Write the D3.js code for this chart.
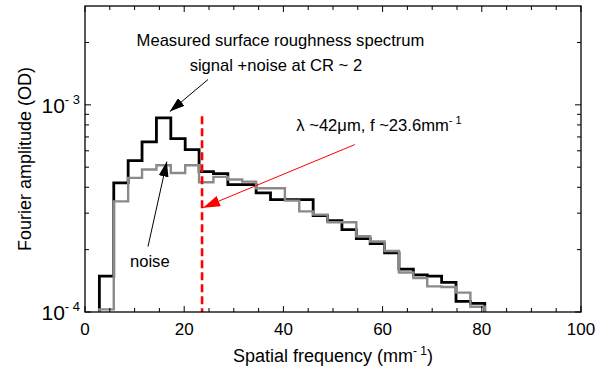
<!DOCTYPE html>
<html>
<head>
<meta charset="utf-8">
<script src="https://cdn.jsdelivr.net/npm/d3@7"></script>
<style>
body{margin:0;background:#fff;}
svg{display:block;font-family:"Liberation Sans",Arial,sans-serif;}
</style>
</head>
<body>
<div id="chart"></div>
<script>
// histogram bin edges, spatial frequency (mm^-1)
var binEdges = [2.9,5.8,8.7,11.5,14.4,17.3,20.2,23.0,25.9,28.8,31.7,34.5,37.4,40.3,
                43.2,46.0,48.9,51.8,54.7,57.5,60.4,63.3,66.2,69.0,71.9,74.8,77.7,80.6];
// signal + noise at CR~2 (black)
var signalNoise = [1.49e-4,4.20e-4,5.38e-4,6.63e-4,8.65e-4,6.87e-4,6.08e-4,4.76e-4,4.66e-4,
                   4.12e-4,4.12e-4,3.76e-4,3.49e-4,3.49e-4,3.49e-4,2.92e-4,2.76e-4,2.50e-4,
                   2.26e-4,2.14e-4,1.93e-4,1.61e-4,1.51e-4,1.49e-4,1.39e-4,1.125e-4,1.10e-4];
// noise (grey)
var noiseOnly = [1.03e-4,3.42e-4,4.44e-4,4.87e-4,5.11e-4,4.69e-4,5.11e-4,4.23e-4,4.49e-4,
                 4.36e-4,4.26e-4,3.96e-4,3.96e-4,3.45e-4,3.06e-4,2.95e-4,2.71e-4,2.71e-4,
                 2.32e-4,2.19e-4,1.97e-4,1.55e-4,1.46e-4,1.33e-4,1.32e-4,1.24e-4,1.06e-4];
var xMajor = [0,20,40,60,80,100];
var xMinor = [5,10,15,25,30,35,45,50,55,65,70,75,85,90,95];
var yMajor = [1e-4,1e-3];
var yLabelExp = ["- 4","- 3"];
var yMinor = [2e-4,3e-4,4e-4,5e-4,6e-4,7e-4,8e-4,9e-4,2e-3];
var cutoffFreq = 23.6;

var W = 603, H = 371;
var m = {l:85, r:22, t:6, b:59};
var pw = W-m.l-m.r, ph = H-m.t-m.b;

var svg = d3.select("#chart").append("svg")
    .attr("width",W).attr("height",H);

var x = d3.scaleLinear().domain([0,100]).range([m.l,m.l+pw]);
var y = d3.scaleLog().domain([1e-4,3e-3]).range([m.t+ph,m.t]);

svg.append("defs").append("clipPath").attr("id","plotclip")
  .append("rect").attr("x",m.l).attr("y",m.t).attr("width",pw).attr("height",ph);

function addHead(id,col,len,wid){
  svg.select("defs").append("marker")
    .attr("id",id).attr("markerUnits","userSpaceOnUse")
    .attr("viewBox","0 0 "+len+" "+wid)
    .attr("refX",len).attr("refY",wid/2)
    .attr("markerWidth",len).attr("markerHeight",wid)
    .attr("orient","auto")
    .append("path").attr("d","M0,0L"+len+","+(wid/2)+"L0,"+wid+"Z").attr("fill",col);
}
addHead("headK","#000",15,10);
addHead("headR","#f00",17,11);

// step outline of a histogram, starting and ending on the baseline
function stepPts(vals){
  var pts = [[binEdges[0],1e-4]];
  for(var i=0;i<vals.length;i++) pts.push([binEdges[i],vals[i]]);
  pts.push([binEdges[vals.length],vals[vals.length-1]]);
  pts.push([binEdges[vals.length],1e-4]);
  return pts;
}
var step = d3.line().x(function(d){return x(d[0]);}).y(function(d){return y(d[1]);})
  .curve(d3.curveStepAfter);

var g = svg.append("g").attr("clip-path","url(#plotclip)");
g.append("path").attr("d",step(stepPts(signalNoise)))
  .attr("fill","none").attr("stroke","#000").attr("stroke-width",2.8);
g.append("path").attr("d",step(stepPts(noiseOnly)))
  .attr("fill","none").attr("stroke","#8a8a8a").attr("stroke-width",2.4);

// cutoff line
svg.append("line")
  .attr("x1",x(cutoffFreq)).attr("x2",x(cutoffFreq))
  .attr("y1",y(8.8e-4)).attr("y2",y(1e-4))
  .attr("stroke","#f00").attr("stroke-width",2.6).attr("stroke-dasharray","8,4");

// frame and ticks
svg.append("rect").attr("x",m.l).attr("y",m.t).attr("width",pw).attr("height",ph)
  .attr("fill","none").attr("stroke","#000").attr("stroke-width",1.3);

function ticksX(vals,len){
  vals.forEach(function(v){
    svg.append("line").attr("x1",x(v)).attr("x2",x(v))
      .attr("y1",m.t+ph).attr("y2",m.t+ph-len).attr("stroke","#000").attr("stroke-width",1);
    svg.append("line").attr("x1",x(v)).attr("x2",x(v))
      .attr("y1",m.t).attr("y2",m.t+len).attr("stroke","#000").attr("stroke-width",1);
  });
}
function ticksY(vals,len){
  vals.forEach(function(v){
    svg.append("line").attr("x1",m.l).attr("x2",m.l+len)
      .attr("y1",y(v)).attr("y2",y(v)).attr("stroke","#000").attr("stroke-width",1);
    svg.append("line").attr("x1",m.l+pw).attr("x2",m.l+pw-len)
      .attr("y1",y(v)).attr("y2",y(v)).attr("stroke","#000").attr("stroke-width",1);
  });
}
ticksX(xMajor,6); ticksX(xMinor,4);
ticksY(yMajor,6); ticksY(yMinor,4);

svg.selectAll(".xlab").data(xMajor).enter().append("text")
  .attr("class","xlab")
  .attr("x",function(d){return x(d);}).attr("y",m.t+ph+23)
  .attr("text-anchor","middle").attr("font-size",17)
  .text(String);

var ylab = svg.selectAll(".ylab").data(yMajor).enter().append("text")
  .attr("class","ylab")
  .attr("x",m.l-5).attr("y",function(d){return y(d)+8;})
  .attr("text-anchor","end").attr("font-size",21);
ylab.append("tspan").text("10");
ylab.append("tspan").attr("dy",-9).attr("font-size",13)
  .text(function(d,i){return yLabelExp[i];});

// axis titles
var xt = svg.append("text").attr("x",m.l+pw/2).attr("y",H-9)
  .attr("text-anchor","middle").attr("font-size",18);
xt.append("tspan").text("Spatial frequency (mm");
xt.append("tspan").attr("dy",-7).attr("font-size",12).text("- 1");
xt.append("tspan").attr("dy",7).text(")");

svg.append("text")
  .attr("transform","translate(31,"+(m.t+ph/2)+") rotate(-90)")
  .attr("text-anchor","middle").attr("font-size",18)
  .text("Fourier amplitude (OD)");

// annotations
svg.append("text").attr("x",x(10.4)).attr("y",y(1.93e-3)).attr("font-size",16.6)
  .text("Measured surface roughness spectrum");
svg.append("text").attr("x",x(21.1)).attr("y",y(1.456e-3)).attr("font-size",16.6)
  .text("signal +noise at CR ~ 2");
var lam = svg.append("text").attr("x",x(42.6)).attr("y",y(7.5e-4)).attr("font-size",16.6);
lam.append("tspan").text("\u03bb ~42\u03bcm, f ~23.6mm");
lam.append("tspan").attr("dy",-7).attr("font-size",11).text("- 1");
svg.append("text").attr("x",x(9.06)).attr("y",y(1.655e-4)).attr("font-size",16.6)
  .text("noise");

svg.append("line")
  .attr("x1",x(24.8)).attr("y1",y(1.325e-3)).attr("x2",x(17.1)).attr("y2",y(9.28e-4))
  .attr("stroke","#000").attr("stroke-width",1).attr("marker-end","url(#headK)");
svg.append("line")
  .attr("x1",x(12.7)).attr("y1",y(2.07e-4)).attr("x2",x(16.5)).attr("y2",y(5.32e-4))
  .attr("stroke","#000").attr("stroke-width",1).attr("marker-end","url(#headK)");
svg.append("line")
  .attr("x1",x(54.4)).attr("y1",y(6.43e-4)).attr("x2",x(23.8)).attr("y2",y(3.19e-4))
  .attr("stroke","#f00").attr("stroke-width",1).attr("marker-end","url(#headR)");
</script>
</body>
</html>
